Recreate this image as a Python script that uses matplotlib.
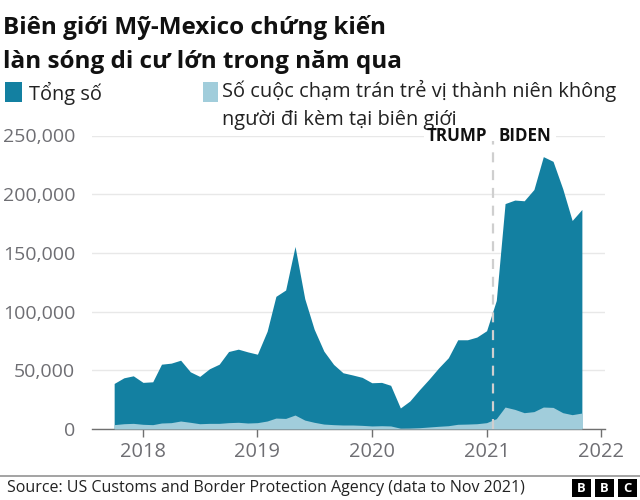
import matplotlib
matplotlib.use("Agg")
import matplotlib.pyplot as plt
import matplotlib.dates as mdates
import pandas as pd
from matplotlib.patches import Rectangle
from matplotlib.lines import Line2D

total = [38.8,43.6,45.3,39.7,40.2,55.2,56.1,58.6,48.7,44.8,51.3,55.2,66,68,65.7,63.7,83.3,113,118.4,155.5,
         111,85,66.3,55,47.9,46,44,39.4,39.7,37.2,17.9,23.8,33.5,42.3,52,60.7,76,76,78.3,83.7,
         109.5,192,195,194.4,204,232,228,204.6,177.6,187]
minors = [3.7,4.5,4.8,4,3.7,5.1,5.4,6.8,5.7,4.5,4.8,4.8,5.4,5.7,5.1,5.4,6.8,9.3,9,11.9,
          7.6,5.7,4.2,3.7,3.4,3.4,3.1,2.6,2.8,2.6,0.7,0.8,1.1,1.7,2.3,2.8,4,4.2,4.5,5.4,
          8.8,18.7,16.7,13.9,14.8,18.7,18.4,13.9,12.2,13.6]
total = [v*1000 for v in total]
minors = [v*1000 for v in minors]
months = pd.date_range("2017-10-01", "2021-11-01", freq="MS")
y_ticks = [0,50000,100000,150000,200000,250000]
y_labels = ["0","50,000","100,000","150,000","200,000","250,000"]
x_years = ["2018","2019","2020","2021","2022"]
title = "Biên giới Mỹ-Mexico chứng kiến\nlàn sóng di cư lớn trong năm qua"
leg_a = "Tổng số"
leg_b = "Số cuộc chạm trán trẻ vị thành niên không\nngười đi kèm tại biên giới"
source = "Source: US Customs and Border Protection Agency (data to Nov 2021)"

DARK="#1380A1"; LIGHT="#A1CDDB"; GREY="#6E6E73"; FONT="Open Sans"
W,H=640,500
plt.rcParams['font.family']=[FONT,'DejaVu Sans']
fig=plt.figure(figsize=(6.4,5),dpi=100,facecolor='white')
def px(s): return s*0.72
L,R,T,B=92,605,135.5,429
ax=fig.add_axes([L/W,1-B/H,(R-L)/W,(B-T)/H])
d0=mdates.date2num(pd.Timestamp("2018-01-01"))
pxperday=114.5/365.25
ax.set_xlim(d0-(143-L)/pxperday,d0+(R-143)/pxperday)
ax.set_ylim(0,250000)
ax.fill_between(months,total,color=DARK,lw=0,zorder=2)
ax.fill_between(months,minors,color=LIGHT,lw=0,zorder=3)
for s in ['top','left','right']: ax.spines[s].set_visible(False)
ax.spines['bottom'].set_color('#707070'); ax.spines['bottom'].set_linewidth(1)
ax.set_axisbelow(True)
ax.yaxis.grid(True,color='#E8E8E8',lw=1)
ax.set_yticks(y_ticks,y_labels)
ax.tick_params(axis='y',length=0,pad=12,labelcolor=GREY,labelsize=px(19.5))
ax.set_xticks([pd.Timestamp(f"{y}-01-01") for y in x_years],x_years)
ax.tick_params(axis='x',length=5.5,width=1,color='#707070',pad=4,labelcolor=GREY,labelsize=px(20))
change=pd.Timestamp("2021-01-20")
ax.plot([change,change],[0,255000],color='#CFCFCF',lw=1.6,ls=(0,(4.5,3.5)),zorder=5,clip_on=False)

def t(x,y,s,**k):
    return fig.text(x/W,1-y/H,s,**k)
t(3,44.5,title,fontsize=px(24.2),fontweight='bold',color='#111111',va='center',linespacing=1.6)
fig.add_artist(Rectangle((5/W,1-102/H),17/W,20/H,transform=fig.transFigure,fc=DARK,lw=0))
fig.add_artist(Rectangle((203/W,1-102/H),15/W,20/H,transform=fig.transFigure,fc=LIGHT,lw=0))
t(29,93,leg_a,fontsize=px(20),color='#222222',va='center')
t(222,105,leg_b,fontsize=px(20),color='#222222',va='center',linespacing=1.55)
# The white patch only breaks the gridline beside the labels, so it stays below the caption text
fig.add_artist(Rectangle((424/W,1-141/H),132/W,11/H,transform=fig.transFigure,fc='white',lw=0,zorder=0.5))
t(487,136,"TRUMP",fontsize=px(17),fontweight='bold',color='#111111',ha='right',va='center',zorder=6)
t(498,136,"BIDEN",fontsize=px(17),fontweight='bold',color='#111111',ha='left',va='center',zorder=6)
fig.add_artist(Line2D([0,1],[1-476/H,1-476/H],transform=fig.transFigure,color='#8A8A8A',lw=1.1))
t(7,488,source,fontsize=px(16),color='#222222',va='center')
for x,c in zip([572,595,618],"BBC"):
    fig.add_artist(Rectangle((x/W,1-497/H),19/W,18/H,transform=fig.transFigure,fc='black',lw=0))
    t(x+9.5,488.5,c,fontsize=px(13),fontweight='bold',color='white',ha='center',va='center')
fig.savefig("out.png",dpi=100,facecolor='white')
